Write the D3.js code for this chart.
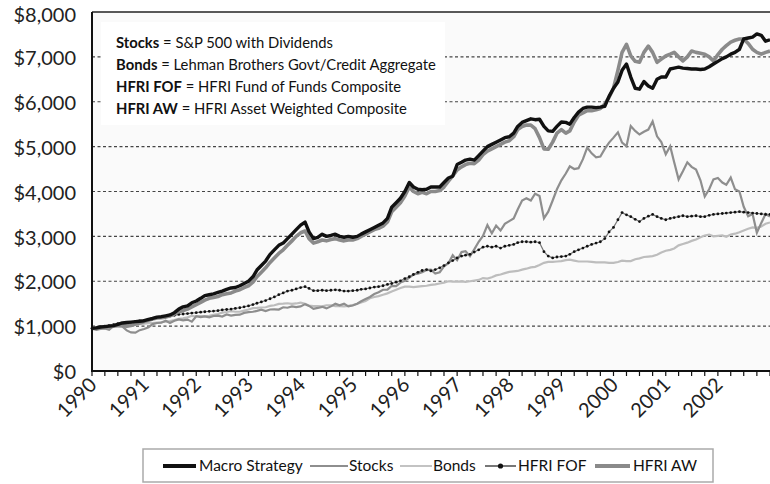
<!DOCTYPE html>
<html>
<head>
<meta charset="utf-8">
<script src="https://cdn.jsdelivr.net/npm/d3@7"></script>
<style>
  html, body { margin: 0; padding: 0; background: #fff; }
  svg { display: block; font-family: "Lato", "Noto Sans", sans-serif; }
</style>
</head>
<body>
<svg id="chart" width="770" height="484"></svg>
<script>
// ---------------- DATA (monthly, Jan 1990 .. Jan 2003) ----------------
const startYear = 1990;
const yTicks = [0, 1000, 2000, 3000, 4000, 5000, 6000, 7000, 8000];
const xYears = [1990, 1991, 1992, 1993, 1994, 1995, 1996, 1997, 1998, 1999, 2000, 2001, 2002];

const macro = [
  950, 960, 980, 990, 1000, 1010, 1040, 1070, 1080, 1090, 1100, 1110,
  1120, 1150, 1170, 1200, 1210, 1230, 1250, 1300, 1380, 1430, 1450, 1520,
  1560, 1620, 1680, 1700, 1720, 1750, 1780, 1820, 1850, 1860, 1900, 1950,
  2000, 2100, 2250, 2350, 2450, 2600, 2700, 2800, 2850, 2950, 3050, 3150,
  3250, 3320, 3100, 2950, 2980, 3050, 3000, 3020, 3050, 3000, 2980, 3000,
  2980, 3000, 3050, 3100, 3150, 3200, 3250, 3300, 3400, 3650, 3750, 3850,
  4000, 4200, 4100, 4050, 4040, 4050, 4100, 4100, 4100, 4200, 4300, 4340,
  4600, 4650, 4700, 4720, 4700, 4800, 4900, 5000, 5050, 5100, 5150, 5200,
  5220, 5300, 5450, 5540, 5580, 5620, 5600, 5610, 5450, 5350, 5340, 5450,
  5550, 5540, 5500, 5650, 5770, 5850, 5880, 5880, 5870, 5880, 5900, 6120,
  6300, 6440, 6700, 6840, 6550, 6300, 6280, 6450, 6350, 6300, 6500, 6550,
  6550, 6730, 6750, 6770, 6750, 6740, 6730, 6730, 6720, 6730, 6780, 6840,
  6900, 6960, 7000, 7060, 7100, 7170, 7400, 7420, 7440, 7510, 7480, 7350,
  7380
];
const stocks = [
  950, 915, 940, 950, 920, 1005, 1000, 995, 905, 860, 855, 910,
  935, 975, 1045, 1070, 1075, 1120, 1070, 1120, 1150, 1130, 1145, 1100,
  1220, 1200, 1215, 1195, 1225, 1235, 1215, 1260, 1235, 1250, 1255, 1295,
  1310, 1320, 1340, 1365, 1335, 1370, 1375, 1370, 1420, 1410, 1440, 1425,
  1440, 1490, 1450, 1385, 1405, 1430, 1395, 1440, 1500, 1465, 1500, 1440,
  1460, 1500, 1555, 1605, 1650, 1715, 1755, 1810, 1815, 1895, 1890, 1970,
  2010, 2080, 2150, 2170, 2200, 2250, 2260, 2170, 2200, 2330, 2400, 2580,
  2470, 2650, 2670, 2560, 2710, 2880, 3010, 3250, 3070, 3240, 3130, 3280,
  3340, 3400, 3600, 3800, 3850, 3800, 3950, 3900, 3400, 3550, 3800, 4050,
  4250, 4400, 4560, 4500, 4520, 4720, 4980, 4850, 4760, 4780, 4950, 5090,
  5200, 5320, 5090, 5010, 5460, 5350, 5270, 5330, 5380, 5560, 5230, 5100,
  4830, 5010, 4650, 4270, 4450, 4650, 4550, 4490, 4250, 3890, 4050, 4270,
  4300, 4200, 4150, 4310, 4050, 4000, 3660, 3450, 3500, 3080, 3300, 3500,
  3440
];
const bonds = [
  950, 945, 950, 945, 965, 980, 995, 985, 995, 1010, 1030, 1045,
  1055, 1065, 1070, 1080, 1090, 1100, 1115, 1135, 1160, 1175, 1195, 1230,
  1215, 1225, 1220, 1230, 1250, 1270, 1300, 1315, 1335, 1320, 1320, 1345,
  1370, 1400, 1405, 1415, 1420, 1450, 1465, 1495, 1500, 1510, 1495, 1505,
  1525, 1495, 1460, 1445, 1445, 1440, 1465, 1465, 1445, 1445, 1440, 1450,
  1470, 1500, 1530, 1560, 1620, 1650, 1670, 1700, 1730, 1770, 1810, 1850,
  1880, 1880, 1870, 1880, 1890, 1900, 1920, 1930, 1950, 1970, 2000, 1990,
  1990, 1995, 1985, 2000, 2015, 2030, 2070, 2060, 2090, 2130, 2150, 2180,
  2210, 2220, 2230, 2260, 2280, 2310, 2320, 2360, 2410, 2430, 2430, 2440,
  2450, 2470, 2480, 2460, 2440, 2440, 2440, 2430, 2420, 2420, 2420, 2410,
  2410, 2430, 2460, 2450, 2450, 2490, 2510, 2540, 2550, 2560, 2590, 2640,
  2680, 2700, 2730, 2800, 2830, 2860, 2900, 2930, 2980, 3020, 3040, 3000,
  3010, 3020, 2990, 3040, 3060, 3090, 3130, 3170, 3200, 3190, 3220, 3280,
  3310
];
const hfriFof = [
  950, 965, 985, 1000, 1015, 1035, 1055, 1060, 1070, 1085, 1100, 1115,
  1125, 1150, 1170, 1185, 1200, 1210, 1225, 1240, 1260, 1270, 1280, 1290,
  1300, 1310, 1320, 1330, 1335, 1345, 1360, 1370, 1380, 1395, 1410, 1430,
  1450, 1480, 1510, 1540, 1570, 1610, 1650, 1700, 1740, 1780, 1800, 1830,
  1860, 1880, 1840, 1790, 1790, 1800, 1790, 1800, 1810, 1800, 1780, 1780,
  1790, 1800, 1820, 1830, 1850, 1870, 1880, 1900, 1930, 1950, 1980, 2010,
  2060, 2100, 2150, 2200, 2240, 2260, 2230, 2260, 2300, 2350, 2410, 2460,
  2520, 2560, 2580, 2600, 2650, 2700, 2760, 2780, 2760, 2780, 2740, 2780,
  2800, 2820, 2860, 2880, 2880, 2870, 2880, 2860, 2660, 2560, 2520, 2540,
  2550, 2560, 2600, 2660, 2700, 2740, 2780, 2820, 2850, 2880, 2950, 3100,
  3200, 3370, 3530, 3480, 3440, 3380, 3330, 3400, 3450, 3490, 3440, 3400,
  3370, 3400, 3420, 3440, 3460, 3440, 3450, 3460, 3440, 3440, 3470, 3490,
  3500, 3510, 3520, 3530, 3540, 3550, 3540, 3530, 3520, 3510, 3500, 3490,
  3490
];
const hfriAw = [
  950, 955, 970, 980, 995, 1005, 1025, 1020, 1000, 1015, 1045, 1070,
  1100, 1130, 1160, 1180, 1190, 1200, 1230, 1270, 1320, 1350, 1380, 1430,
  1480, 1530, 1580, 1620, 1640, 1660, 1700, 1720, 1740, 1780, 1810, 1860,
  1900, 1980, 2100, 2200, 2300, 2420, 2520, 2620, 2700, 2800, 2900, 3000,
  3080, 3120, 2950, 2850, 2880, 2920, 2900, 2930, 2950, 2920, 2900, 2920,
  2920, 2950, 3000, 3050, 3100, 3150, 3180, 3230, 3320, 3550, 3650, 3750,
  3900, 4100, 4000, 3950, 3980, 3950, 4000, 4000, 4020, 4100, 4230, 4350,
  4480, 4550, 4600, 4630, 4620, 4700, 4820, 4900, 4950, 5000, 5050, 5100,
  5130, 5220, 5380, 5450, 5480, 5480, 5400, 5200, 4950, 4940, 5100, 5300,
  5380, 5300, 5350, 5550, 5700, 5750, 5800, 5800, 5820, 5850, 5950, 6100,
  6300, 6700, 7100, 7280, 7020, 6900, 6880, 7100, 7240, 7100, 6880, 6950,
  7020, 7060, 7100, 7000, 6910, 7000, 7130, 7100, 7080, 7060, 7000, 6910,
  7050, 7170, 7250, 7330, 7370, 7400, 7400, 7300, 7170, 7100, 7060, 7100,
  7130
];
const seriesNames = ["Macro Strategy", "Stocks", "Bonds", "HFRI FOF", "HFRI AW"];
const notes = [
  ["Stocks", " = S&P 500 with Dividends"],
  ["Bonds", " = Lehman Brothers Govt/Credit Aggregate"],
  ["HFRI FOF", " = HFRI Fund of Funds Composite"],
  ["HFRI AW", " = HFRI Asset Weighted Composite"]
];

// ---------------- CHART ----------------
const svg = d3.select("#chart");
const W = 770, H = 484;
const m = { left: 92, right: 0, top: 12, bottom: 113 };
const x0 = m.left, x1 = W - m.right, yTop = m.top, yBot = H - m.bottom;

const dates = d3.range(macro.length).map(i => new Date(startYear, i, 1));
const x = d3.scaleTime().domain([new Date(1990, 0, 1), new Date(2003, 0, 1)]).range([x0, x1]);
const y = d3.scaleLinear().domain([0, 8000]).range([yBot, yTop]);

svg.append("rect").attr("width", W).attr("height", H).attr("fill", "#fff");
svg.append("rect").attr("x", x0).attr("y", yTop).attr("width", x1 - x0).attr("height", yBot - yTop).attr("fill", "#fafafa");

// grid
svg.append("g").selectAll("line").data(yTicks.filter(v => v > 0 && v < 8000)).join("line")
  .attr("x1", x0).attr("x2", x1).attr("y1", d => y(d)).attr("y2", d => y(d))
  .attr("stroke", "#444").attr("stroke-width", 1.1).attr("stroke-dasharray", "3,2.5");

// quarterly ticks on x axis
const quarters = d3.timeMonth.every(3).range(new Date(1990, 0, 1), new Date(2003, 0, 2));
svg.append("g").selectAll("line").data(quarters).join("line")
  .attr("x1", d => x(d)).attr("x2", d => x(d)).attr("y1", yBot).attr("y2", yBot + 5)
  .attr("stroke", "#111").attr("stroke-width", 1.2);

// lines
const line = d3.line().x((d, i) => x(dates[i])).y(d => y(d)).curve(d3.curveLinear);
const g = svg.append("g");
g.append("path").datum(bonds).attr("d", line).attr("fill", "none").attr("stroke", "#bdbdbd").attr("stroke-width", 2.2);
g.append("path").datum(stocks).attr("d", line).attr("fill", "none").attr("stroke", "#8e8e8e").attr("stroke-width", 2.2);
g.append("path").datum(hfriFof).attr("d", line).attr("fill", "none").attr("stroke", "#777").attr("stroke-width", 1.2);
g.append("g").selectAll("circle").data(hfriFof).join("circle")
  .attr("cx", (d, i) => x(dates[i])).attr("cy", d => y(d)).attr("r", 1.4).attr("fill", "#111");
g.append("path").datum(hfriAw).attr("d", line).attr("fill", "none").attr("stroke", "#8a8a8a").attr("stroke-width", 3.6).attr("stroke-linejoin", "round");
g.append("path").datum(macro).attr("d", line).attr("fill", "none").attr("stroke", "#111").attr("stroke-width", 3.4).attr("stroke-linejoin", "round");

// frame
svg.append("line").attr("x1", x0).attr("x2", x1).attr("y1", yTop).attr("y2", yTop).attr("stroke", "#222").attr("stroke-width", 1.5);
svg.append("line").attr("x1", x0).attr("x2", x1).attr("y1", yBot).attr("y2", yBot).attr("stroke", "#111").attr("stroke-width", 2);
svg.append("line").attr("x1", x0).attr("x2", x0).attr("y1", yTop).attr("y2", yBot + 1).attr("stroke", "#111").attr("stroke-width", 2);

// y labels
svg.append("g").selectAll("text").data(yTicks).join("text")
  .attr("x", 76).attr("y", d => Math.max(y(d) + 1, 15)).attr("dy", "0.36em")
  .attr("text-anchor", "end").attr("font-size", 20).attr("fill", "#222")
  .text(d => d3.format("$,")(d));

// x labels
svg.append("g").selectAll("text").data(xYears).join("text")
  .attr("transform", d => `translate(${x(new Date(d, 0, 1)) + 6},${yBot + 15}) rotate(-45)`)
  .attr("text-anchor", "end").attr("font-size", 20).attr("fill", "#222")
  .text(d => d);

// annotation box
svg.append("rect").attr("x", 101).attr("y", 22).attr("width", 344).attr("height", 103).attr("fill", "#fff");
const nt = svg.append("g").selectAll("text").data(notes).join("text")
  .attr("x", 116).attr("y", (d, i) => 43 + i * 22).attr("dy", "0.35em")
  .attr("font-size", 14.8).attr("fill", "#111");
nt.append("tspan").attr("font-weight", "bold").text(d => d[0]);
nt.append("tspan").text(d => d[1]);

// legend
svg.append("rect").attr("x", 143).attr("y", 449).attr("width", 570).attr("height", 33)
  .attr("fill", "#fff").attr("stroke", "#aaa").attr("stroke-width", 1.5);
const legendItems = [
  { name: seriesNames[0], x1: 163, x2: 196, tx: 199, color: "#111", w: 4 },
  { name: seriesNames[1], x1: 310, x2: 348, tx: 349, color: "#8e8e8e", w: 1.8 },
  { name: seriesNames[2], x1: 400, x2: 432, tx: 433, color: "#bdbdbd", w: 1.8 },
  { name: seriesNames[3], x1: 485, x2: 516, tx: 518, color: "#555", w: 1.6, dot: true },
  { name: seriesNames[4], x1: 595, x2: 630, tx: 633, color: "#8a8a8a", w: 4 }
];
const lg = svg.append("g");
legendItems.forEach(it => {
  lg.append("line").attr("x1", it.x1).attr("x2", it.x2).attr("y1", 466).attr("y2", 466)
    .attr("stroke", it.color).attr("stroke-width", it.w);
  if (it.dot) lg.append("circle").attr("cx", (it.x1 + it.x2) / 2).attr("cy", 466).attr("r", 2.6).attr("fill", "#111");
  lg.append("text").attr("x", it.tx).attr("y", 466).attr("dy", "0.35em")
    .attr("font-size", 15.5).attr("fill", "#111").text(it.name);
});
</script>
</body>
</html>
